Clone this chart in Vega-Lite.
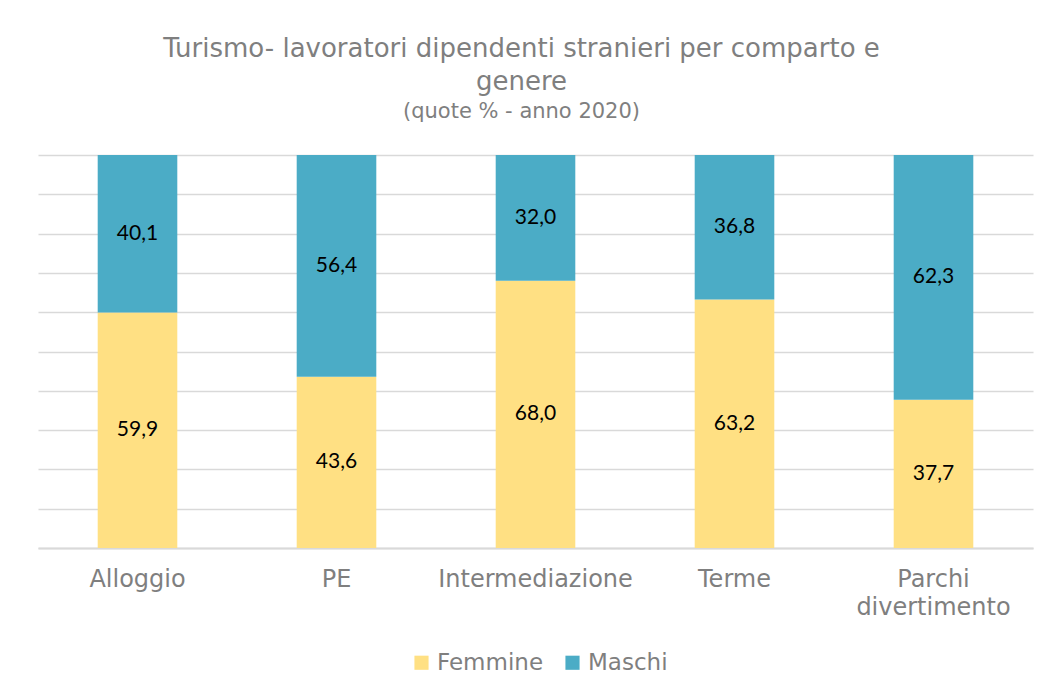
{
  "$schema": "https://vega.github.io/schema/vega-lite/v6.json",
  "autosize": {"type": "none"},
  "width": 995,
  "height": 393,
  "padding": {"left": 38, "top": 155, "right": 18, "bottom": 145},
  "background": "white",
  "config": {
    "locale": {"number": {"decimal": ",", "thousands": ".", "grouping": [3], "currency": ["€", ""]}},
    "view": {"stroke": null},
    "font": "DejaVu Sans",
    "axisY": {
      "values": [0, 10, 20, 30, 40, 50, 60, 70, 80, 90, 100],
      "labelOpacity": 0,
      "labelFontSize": 1,
      "tickOpacity": 0,
      "domain": false,
      "grid": true,
      "gridColor": "#d9d9d9",
      "gridWidth": 1.5,
      "title": null
    }
  },
  "title": {
    "text": ["Turismo- lavoratori dipendenti stranieri per comparto e", "genere"],
    "subtitle": "(quote % - anno 2020)",
    "font": "DejaVu Sans",
    "fontSize": 26,
    "fontWeight": "normal",
    "color": "#7f7f7f",
    "lineHeight": 33,
    "subtitleFont": "DejaVu Sans",
    "subtitleFontSize": 21,
    "subtitleColor": "#7f7f7f",
    "subtitlePadding": 6,
    "anchor": "middle",
    "dx": -14,
    "offset": 32
  },
  "data": {
    "values": [
      {"comparto": "Alloggio", "genere": "Femmine", "quota": 59.9},
      {"comparto": "Alloggio", "genere": "Maschi", "quota": 40.1},
      {"comparto": "PE", "genere": "Femmine", "quota": 43.6},
      {"comparto": "PE", "genere": "Maschi", "quota": 56.4},
      {"comparto": "Intermediazione", "genere": "Femmine", "quota": 68.0},
      {"comparto": "Intermediazione", "genere": "Maschi", "quota": 32.0},
      {"comparto": "Terme", "genere": "Femmine", "quota": 63.2},
      {"comparto": "Terme", "genere": "Maschi", "quota": 36.8},
      {"comparto": "Parchi divertimento", "genere": "Femmine", "quota": 37.7},
      {"comparto": "Parchi divertimento", "genere": "Maschi", "quota": 62.3}
    ]
  },
  "encoding": {
    "x": {
      "field": "comparto",
      "type": "nominal",
      "sort": null,
      "title": null,
      "scale": {"paddingInner": 0.6, "paddingOuter": 0.3},
      "axis": {
        "labelAngle": 0,
        "labelFont": "DejaVu Sans",
        "labelFontSize": 24,
        "labelColor": "#7f7f7f",
        "labelPadding": 19,
        "labelLineHeight": 28,
        "labelLimit": 400,
        "labelExpr": "datum.label == 'Parchi divertimento' ? ['Parchi', 'divertimento'] : datum.label",
        "ticks": false,
        "domainColor": "#d9d9d9",
        "domainWidth": 2
      }
    }
  },
  "layer": [
    {
      "mark": {"type": "bar"},
      "encoding": {
        "y": {
          "field": "quota",
          "type": "quantitative",
          "stack": "zero",
          "scale": {"domain": [0, 100], "nice": false},
          "title": null
        },
        "color": {
          "field": "genere",
          "type": "nominal",
          "title": null,
          "scale": {"domain": ["Femmine", "Maschi"], "range": ["#FFE083", "#4BACC6"]},
          "legend": {
            "orient": "none",
            "legendX": 372,
            "legendY": 496,
            "direction": "horizontal",
            "symbolType": "square",
            "symbolSize": 200,
            "symbolStrokeWidth": 0,
            "labelFont": "DejaVu Sans",
            "labelFontSize": 23,
            "labelColor": "#7f7f7f",
            "labelOffset": 4,
            "columnPadding": 17
          }
        },
        "order": {"field": "genere", "sort": "ascending"}
      }
    },
    {
      "mark": {"type": "text", "font": "Lato", "fontSize": 21, "color": "#000000"},
      "encoding": {
        "y": {
          "field": "quota",
          "type": "quantitative",
          "stack": "zero",
          "bandPosition": 0.5,
          "title": null
        },
        "detail": {"field": "genere"},
        "order": {"field": "genere", "sort": "ascending"},
        "text": {"field": "quota", "type": "quantitative", "format": ".1f"}
      }
    }
  ]
}
